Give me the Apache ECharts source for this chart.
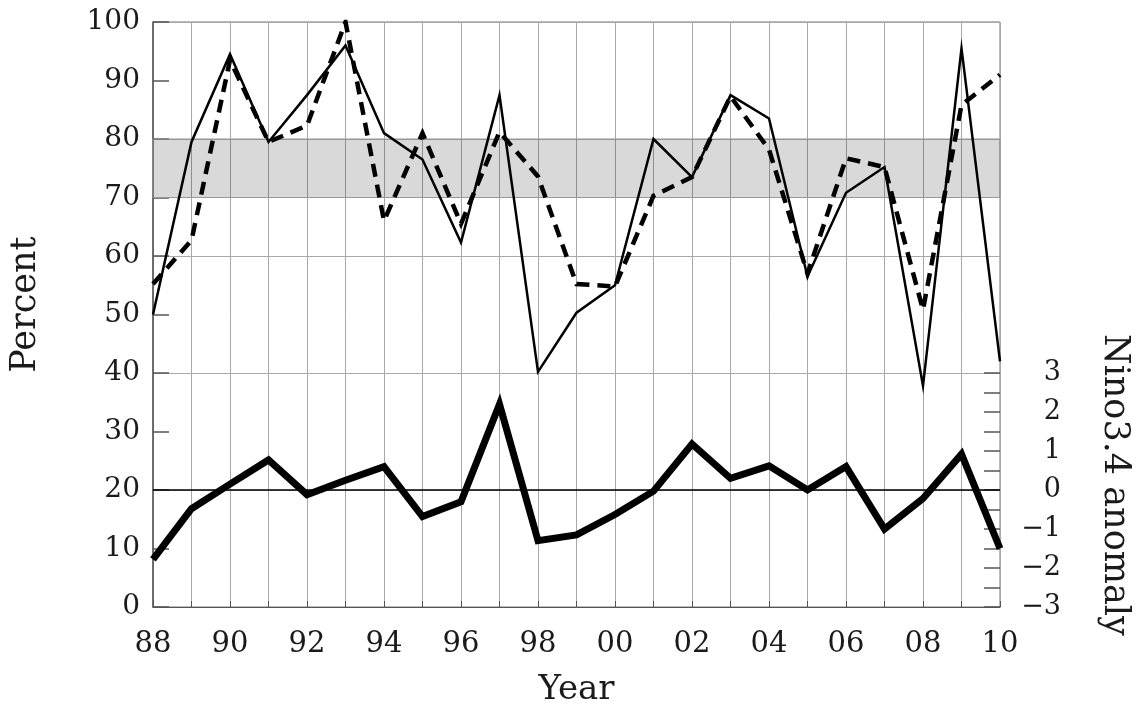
<!DOCTYPE html>
<html>
<head>
<meta charset="utf-8">
<script src="https://cdn.jsdelivr.net/npm/echarts@6/dist/echarts.min.js"></script>
<style>html,body{margin:0;padding:0;background:#fff}#c{width:1148px;height:707px}</style>
</head>
<body>
<div id="c"></div>
<script>
// Categories (years)
var years = ['88','89','90','91','92','93','94','95','96','97','98','99','00','01','02','03','04','05','06','07','08','09','10'];
// Solid thin line (Percent)
var solidVals = [50, 79.5, 94.5, 79.5, 87.5, 96, 81, 76.5, 62.3, 87.5, 40.2, 50.3, 55, 80, 73.5, 87.5, 83.5, 56.5, 70.8, 75.2, 37.8, 95.5, 42];
// Dashed line (Percent)
var dashedVals = [55.2, 62.7, 93.5, 79.5, 82.3, 100, 66, 81, 65.5, 81.2, 73.6, 55.2, 54.8, 70.3, 73.5, 87.3, 78.2, 57, 76.7, 75.2, 50.8, 85.8, 91];
// Thick line (Nino3.4 anomaly)
var ninoVals = [-1.78, -0.48, 0.15, 0.77, -0.12, 0.25, 0.6, -0.68, -0.3, 2.2, -1.3, -1.15, -0.63, -0.03, 1.18, 0.3, 0.62, 0.0, 0.6, -1.0, -0.22, 0.92, -1.5];
// Tick values
var percentTicks = [0, 10, 20, 30, 40, 50, 60, 70, 80, 90, 100];
var anomalyLabels = [-3, -2, -1, 0, 1, 2, 3];
var anomalyTicks = [-3, -2.5, -2, -1.5, -1, -0.5, 0, 0.5, 1, 1.5, 2, 2.5, 3];
var band = [70, 80];

var FONT = 'DejaVu Serif';
var TXT = '#1a1a1a';
var chart = echarts.init(document.getElementById('c'));
chart.setOption({
  animation: false,
  backgroundColor: '#fff',
  grid: {left: 153, right: 148, top: 22, bottom: 100, show: true, borderColor: '#777', borderWidth: 1,
    containLabel: false, outerBoundsMode: 'none'},
  xAxis: {
    type: 'category', data: years, boundaryGap: false,
    name: 'Year', nameLocation: 'middle', nameGap: 66,
    nameTextStyle: {fontFamily: FONT, fontSize: 34, color: TXT},
    axisLine: {show: true, lineStyle: {color: '#555', width: 1}},
    axisTick: {show: true, inside: true, length: 6, interval: 0, lineStyle: {color: '#555'}},
    axisLabel: {interval: 1, margin: 23, fontFamily: FONT, fontSize: 29, color: TXT},
    splitLine: {show: true, interval: 0, lineStyle: {color: '#a8a8a8', width: 1}}
  },
  yAxis: [
    {
      type: 'value', position: 'left', min: 0, max: 100, interval: 10,
      name: 'Percent', nameLocation: 'middle', nameGap: 110, nameRotate: 90,
      nameTextStyle: {fontFamily: FONT, fontSize: 35, color: TXT, padding: [0, 0, 0, 20]},
      axisLine: {show: true, lineStyle: {color: '#555', width: 1.5}},
      axisTick: {show: true, inside: true, length: 16, lineStyle: {color: '#555', width: 1.5}},
      axisLabel: {margin: 13, fontFamily: FONT, fontSize: 28, color: TXT,
        customValues: percentTicks},
      splitLine: {show: false}
    },
    {
      type: 'value', position: 'right', min: -3, max: 12, interval: 0.5,
      axisLine: {show: false},
      axisTick: {show: true, inside: true, length: 16, customValues: anomalyTicks, lineStyle: {color: '#555', width: 1.5}},
      axisLabel: {show: true, customValues: anomalyLabels, align: 'right', margin: 61,
        fontFamily: FONT, fontSize: 27, color: TXT,
        formatter: function (v) { return v < 0 ? '\u2212' + Math.abs(v) : String(v); }},
      splitLine: {show: false}
    },
    {
      type: 'value', position: 'left', min: 0, max: 100, interval: 20,
      axisLine: {show: false}, axisTick: {show: false}, axisLabel: {show: false},
      splitLine: {show: true, lineStyle: {color: '#a8a8a8', width: 1}}
    }
  ],
  graphic: [{
    type: 'text', left: 1097, top: 334,
    rotation: -Math.PI / 2,
    style: {text: 'Nino3.4 anomaly', fontFamily: FONT, fontSize: 35, fill: TXT}
  }],
  series: [
    {
      type: 'line', data: solidVals, yAxisIndex: 0, showSymbol: false, silent: true, z: 3,
      lineStyle: {color: '#000', width: 2.5, join: 'miter'},
      markArea: {silent: true, itemStyle: {color: 'rgba(0,0,0,0.15)', borderColor: '#999', borderWidth: 1},
        data: [[{yAxis: band[0]}, {yAxis: band[1]}]]}
    },
    {
      type: 'line', data: dashedVals, yAxisIndex: 0, showSymbol: false, silent: true, z: 4,
      lineStyle: {color: '#000', width: 4.5, type: [13, 8], join: 'miter'}
    },
    {
      type: 'line', data: ninoVals, yAxisIndex: 1, showSymbol: false, silent: true, z: 5,
      lineStyle: {color: '#000', width: 7, join: 'miter'},
      markLine: {silent: true, symbol: 'none', label: {show: false},
        lineStyle: {color: '#000', type: 'solid', width: 1.5},
        data: [{yAxis: 0}]}
    }
  ]
});
</script>
</body>
</html>
